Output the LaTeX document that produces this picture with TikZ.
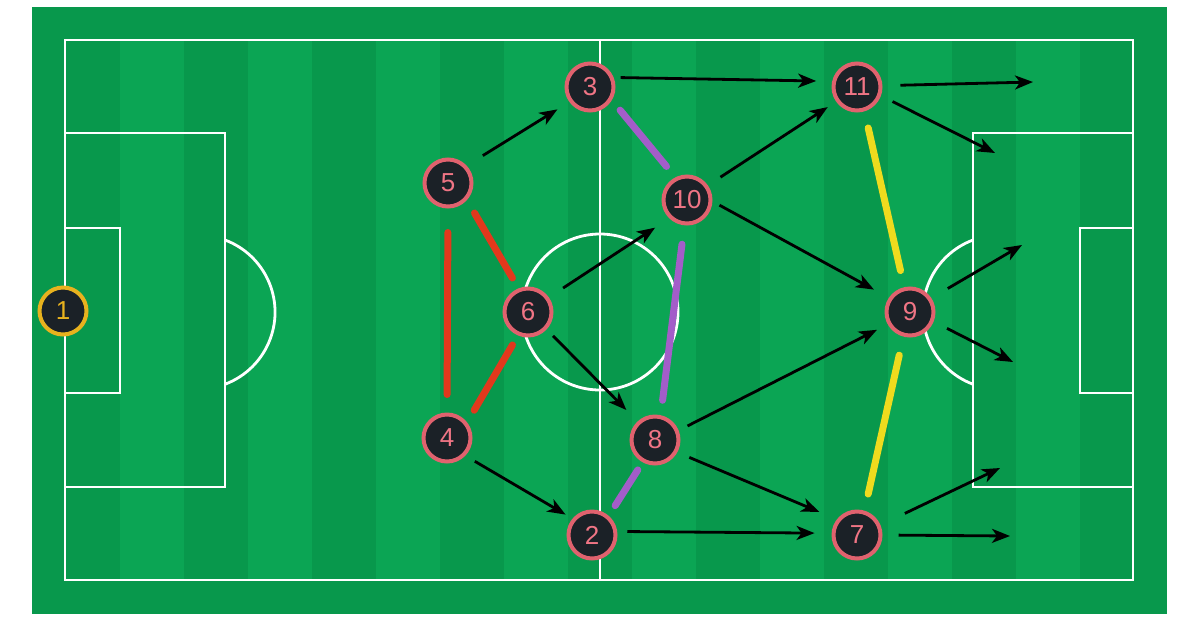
\documentclass[tikz,border=0pt]{standalone}
\usepackage{fontspec}
\setmainfont{Liberation Sans}
\usetikzlibrary{arrows.meta}
\definecolor{grassdark}{HTML}{08984C}
\definecolor{grasslight}{HTML}{0BA554}
\definecolor{pinkborder}{HTML}{E0626E}
\definecolor{pinktext}{HTML}{F07585}
\definecolor{nodefill}{HTML}{1B2127}
\definecolor{goldborder}{HTML}{E8B21E}
\definecolor{linkred}{HTML}{E2381C}
\definecolor{linkpurple}{HTML}{A35DC9}
\definecolor{linkyellow}{HTML}{EEDB1E}
\begin{document}
\begin{tikzpicture}[x=1pt,y=-1pt,
  pitchline/.style={draw=white,line width=2.8pt},
  player/.style={circle,draw=pinkborder,line width=4pt,fill=nodefill,text=pinktext,
    minimum size=47pt,inner sep=0pt,font=\fontsize{26}{26}\selectfont},
  keeper/.style={player,draw=goldborder,text=goldborder},
  arr/.style 2 args={-{Stealth[length=18pt,width=14pt,inset=5pt]},line width=2.8pt,black,
    shorten <=#1pt,shorten >=#2pt},
  link/.style n args={3}{line width=7pt,line cap=round,draw=#1,shorten <=#2pt,shorten >=#3pt}]
\useasboundingbox (0,0) rectangle (1199,641);
\fill[white] (0,0) rectangle (1199,641);
\fill[grassdark] (32,7) rectangle (1167,614);
\begin{scope}
  \clip (65,40) rectangle (1133,580);
  \foreach \i in {0,...,8} \fill[grasslight] ({120+128*\i},40) rectangle ({184+128*\i},580);
\end{scope}
% pitch lines
\draw[pitchline] (65,40) rectangle (1133,580);
\draw[pitchline] (600,40) -- (600,580);
\draw[pitchline] (600,312) circle[radius=78];
\draw[pitchline] (65,133) rectangle (225,487);
\draw[pitchline] (65,228) rectangle (120,393);
\draw[pitchline] (973,133) rectangle (1133,487);
\draw[pitchline] (1080,228) rectangle (1133,393);
\draw[pitchline] (225,240) arc[start angle=-69.5,end angle=69.5,radius=77];
\draw[pitchline] (973,240) arc[start angle=249.5,end angle=110.5,radius=77];
% players
\node[keeper] (n1) at (63,311) {1};
\node[player] (n5) at (448,183) {5};
\node[player] (n3) at (590,87) {3};
\node[player] (n6) at (528,312) {6};
\node[player] (n10) at (687,200) {10};
\node[player] (n11) at (857,87) {11};
\node[player] (n9) at (910,312) {9};
\node[player] (n4) at (447,438) {4};
\node[player] (n8) at (655,440) {8};
\node[player] (n2) at (592,535) {2};
\node[player] (n7) at (857,535) {7};
% free ends
\coordinate (e11a) at (1033,82);
\coordinate (e11b) at (995,153);
\coordinate (e9a) at (1022,245);
\coordinate (e9b) at (1013,362);
\coordinate (e7a) at (1000,468);
\coordinate (e7b) at (1010,536);
% coloured links
\draw[link={linkred}{24}{18}] (n5.-90) -- (n4.90);
\draw[link={linkred}{15}{12}] (n5.-42) -- (n6.112);
\draw[link={linkred}{11}{14}] (n6.247) -- (n4.38);
\draw[link={linkpurple}{13}{14}] (n3.-31) -- (n10.117);
\draw[link={linkpurple}{19}{15}] (n10.-96) -- (n8.77);
\draw[link={linkpurple}{9}{12}] (n8.-119) -- (n2.49);
\draw[link={linkyellow}{17}{17}] (n11.-73) -- (n9.103);
\draw[link={linkyellow}{19}{17}] (n9.-105) -- (n7.73);
% passes
\draw[arr={19}{14}] (n5.43) -- (n3.-144);
\draw[arr={7}{16}] (n3.22) -- (n11.167);
\draw[arr={15}{10}] (n10.35) -- (n11.-145);
\draw[arr={8}{17}] (n10.-3) -- (n9.146);
\draw[arr={18}{0}] (n11.3) -- (e11a);
\draw[arr={13}{0}] (n11.-20) -- (e11b);
\draw[arr={19}{0}] (n9.33) -- (e9a);
\draw[arr={15}{0}] (n9.-22) -- (e9b);
\draw[arr={17}{17}] (n6.35) -- (n10.-134);
\draw[arr={9}{16}] (n6.-43) -- (n8.133);
\draw[arr={11}{8}] (n4.-44) -- (n2.140);
\draw[arr={10}{17}] (n2.8) -- (n7.176);
\draw[arr={10}{12}] (n8.22) -- (n9.-151);
\draw[arr={13}{19}] (n8.-29) -- (n7.142);
\draw[arr={27}{0}] (n7.23) -- (e7a);
\draw[arr={16}{0}] (n7.0) -- (e7b);
\end{tikzpicture}
\end{document}
